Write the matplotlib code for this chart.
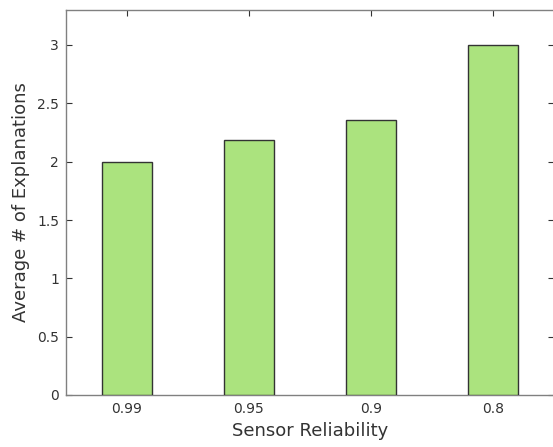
import matplotlib
matplotlib.use("Agg")
import matplotlib.pyplot as plt

categories = ["0.99", "0.95", "0.9", "0.8"]
values = [2.0, 2.185, 2.36, 3.0]
yticks = [0, 0.5, 1, 1.5, 2, 2.5, 3]
ytick_labels = ["0", "0.5", "1", "1.5", "2", "2.5", "3"]

plt.rcParams['font.family'] = ['DejaVu Sans']
fig = plt.figure(figsize=(5.53, 4.47), dpi=100)
W, H = 553, 447
left, right, top, bottom = 66, 554, 10, 395
ax = fig.add_axes([left / W, 1 - bottom / H, (right - left) / W, (bottom - top) / H])

pos = list(range(1, len(categories) + 1))
ax.bar(pos, values, width=0.41, color="#abe37e", edgecolor="#333333", linewidth=1.0, zorder=3)

ax.set_xlim(0.5, len(categories) + 0.5)
ax.set_ylim(0, 3.3)
ax.set_xticks(pos)
ax.set_xticklabels(categories)
ax.set_yticks(yticks)
ax.set_yticklabels(ytick_labels)

for s in ax.spines.values():
    s.set_color("#808080")
    s.set_linewidth(1.0)
ax.spines['right'].set_visible(False)
ax.tick_params(direction="in", length=4, width=0.8, color="#333333",
               labelsize=10, labelcolor="#333333", top=True, right=True, pad=5)

ax.set_xlabel("Sensor Reliability", fontsize=13, color="#333333", labelpad=4)
ax.set_ylabel("Average # of Explanations", fontsize=13, color="#333333", labelpad=5)

fig.savefig("out.png", dpi=100)
